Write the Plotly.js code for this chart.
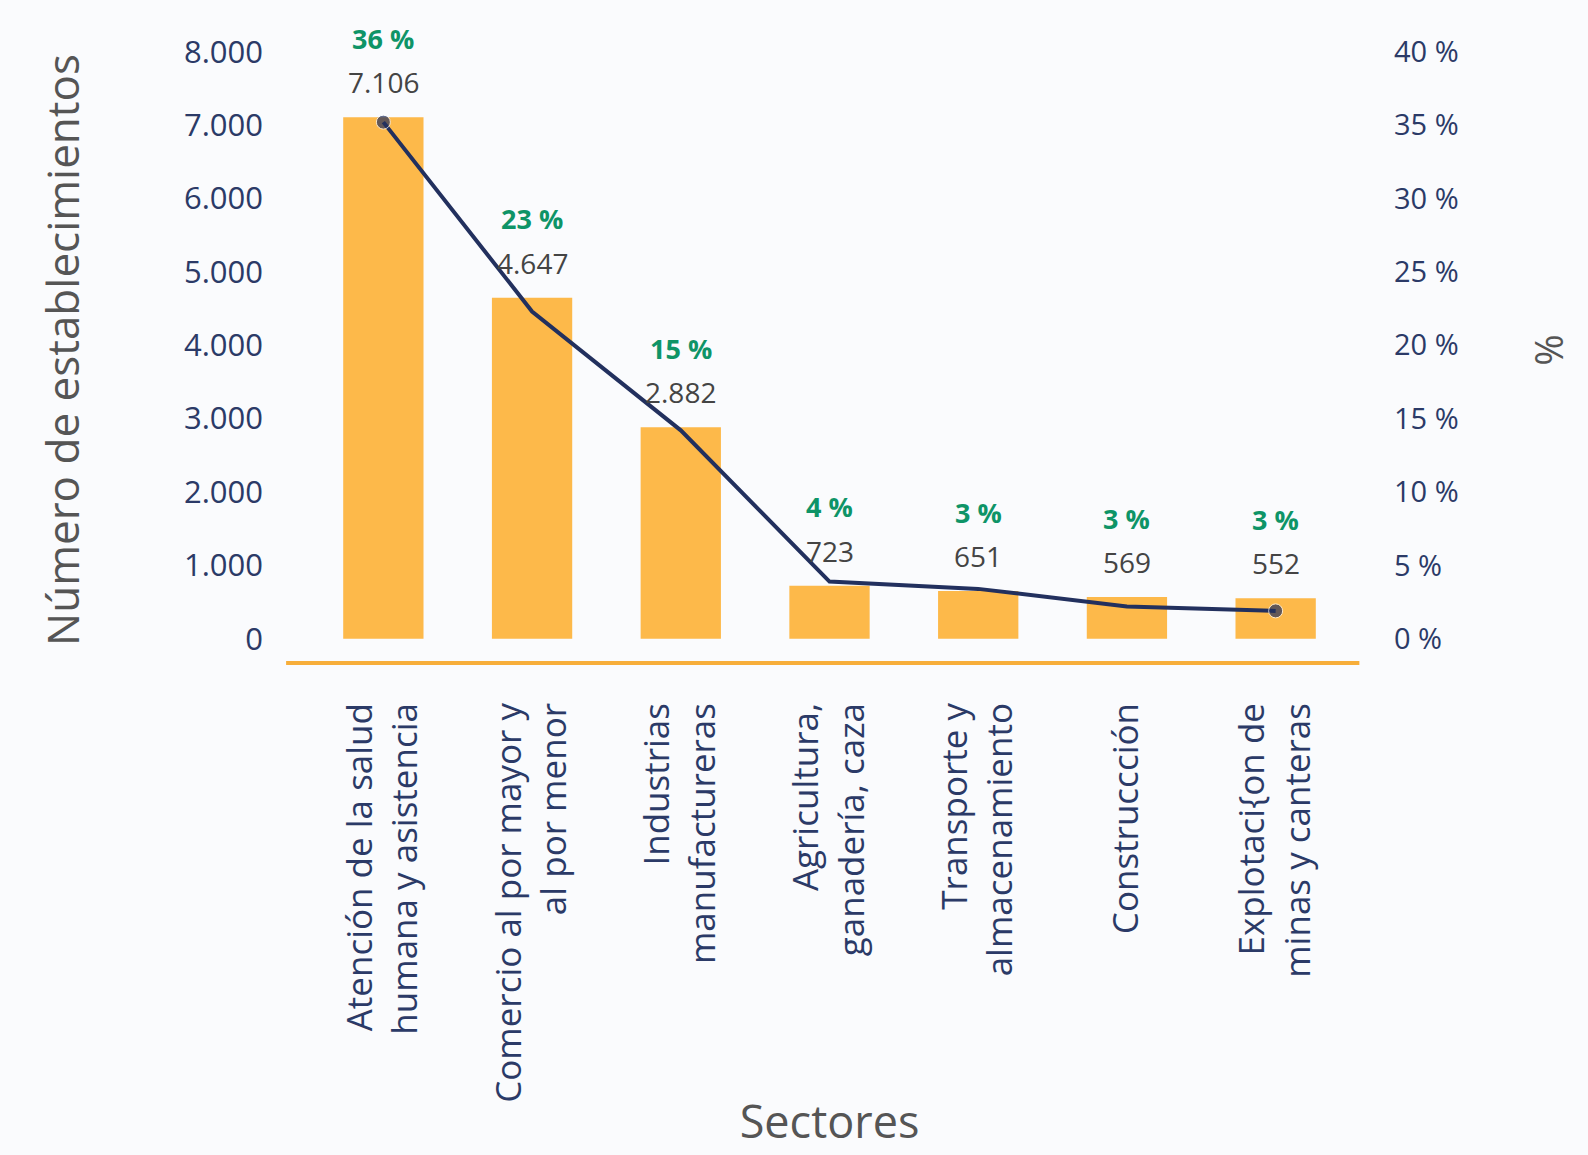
<!DOCTYPE html>
<html><head><meta charset="utf-8">
<script src="https://cdn.plot.ly/plotly-3.0.1.min.js"></script>
<style>html,body{margin:0;padding:0;background:#FAFBFD;}#chart{width:1588px;height:1155px;}</style>
</head><body><div id="chart"></div>
<script>
const categories = [
  "Atención de la salud<br>humana y asistencia",
  "Comercio al por mayor y<br>al por menor",
  "Industrias<br>manufactureras",
  "Agricultura,<br>ganadería, caza",
  "Transporte y<br>almacenamiento",
  "Construccción",
  "Explotaci{on de<br>minas y canteras"
];
const establecimientos = [7106, 4647, 2882, 723, 651, 569, 552];
const porcentajeLinea = [35.2, 22.3, 14.2, 3.9, 3.4, 2.2, 1.9];
const porcentajeEtiqueta = [36, 23, 15, 4, 3, 3, 3];
const leftTicks = [0, 1000, 2000, 3000, 4000, 5000, 6000, 7000, 8000];
const rightTicks = [0, 5, 10, 15, 20, 25, 30, 35, 40];

const FONT = "Open Sans";
const NAVY = "#2B3A67";
const fmt = v => v.toString().replace(/\B(?=(\d{3})+(?!\d))/g, ".");

const bars = {
  type: "bar", x: categories, y: establecimientos,
  marker: {color: "#FDB94A"}, hoverinfo: "skip", showlegend: false
};
const line = {
  type: "scatter", mode: "lines+markers", x: categories, y: porcentajeLinea, yaxis: "y2",
  line: {color: "#22305E", width: 4},
  marker: {color: "#22305E", size: porcentajeLinea.map((v, i) => (i === 0 || i === porcentajeLinea.length - 1) ? 14 : 0)},
  cliponaxis: false, showlegend: false, hoverinfo: "skip"
};

const annotations = [];
categories.forEach((c, i) => {
  annotations.push({x: c, y: establecimientos[i], xref: "x", yref: "y", text: fmt(establecimientos[i]),
    showarrow: false, yanchor: "middle", yshift: 35, font: {family: FONT, size: 28, color: "#444444"}});
  annotations.push({x: c, y: establecimientos[i], xref: "x", yref: "y", text: "<b>" + porcentajeEtiqueta[i] + " %</b>",
    showarrow: false, yanchor: "middle", yshift: 79, font: {family: FONT, size: 27, color: "#0E9467"}});
});

const layout = {
  width: 1588, height: 1155,
  paper_bgcolor: "#FAFBFD", plot_bgcolor: "#FAFBFD",
  margin: {l: 309, r: 238, t: 37, b: 492, autoexpand: false},
  separators: ",.",
  bargap: 0.46,
  font: {family: FONT, color: NAVY},
  xaxis: {
    type: "category", range: [-0.5, 6.5], automargin: false,
    tickangle: -90, ticks: "", showline: false, showgrid: false, zeroline: false,
    ticklabelstandoff: 32,
    tickfont: {family: FONT, size: 35, color: NAVY},
    title: {text: "Sectores", font: {family: FONT, size: 45, color: "#555555"}, standoff: 4}
  },
  yaxis: {
    range: [-330, 8200], automargin: false, tickvals: leftTicks, ticktext: leftTicks.map(fmt),
    showgrid: false, zeroline: false, showline: false, ticks: "",
    ticklabelstandoff: 45,
    tickfont: {family: FONT, size: 31, color: NAVY},
    title: {text: "Número de establecimientos", font: {family: FONT, size: 44, color: "#555555"}, standoff: 90}
  },
  yaxis2: {
    overlaying: "y", side: "right", range: [-1.65, 41], automargin: false,
    tickvals: rightTicks, ticktext: rightTicks.map(v => v + " %"),
    showgrid: false, zeroline: false, showline: false, ticks: "",
    ticklabelstandoff: 43,
    tickfont: {family: FONT, size: 29, color: NAVY},
    title: {text: "%", font: {family: FONT, size: 38, color: "#555555"}, standoff: 78}
  },
  shapes: [{type: "line", xref: "paper", yref: "paper", x0: -0.022, x1: 1.009, y0: 0, y1: 0,
    line: {color: "#F7AE3A", width: 4}}],
  annotations: annotations
};

Plotly.newPlot("chart", [bars, line], layout, {displayModeBar: false, staticPlot: true});
</script>
</body></html>
